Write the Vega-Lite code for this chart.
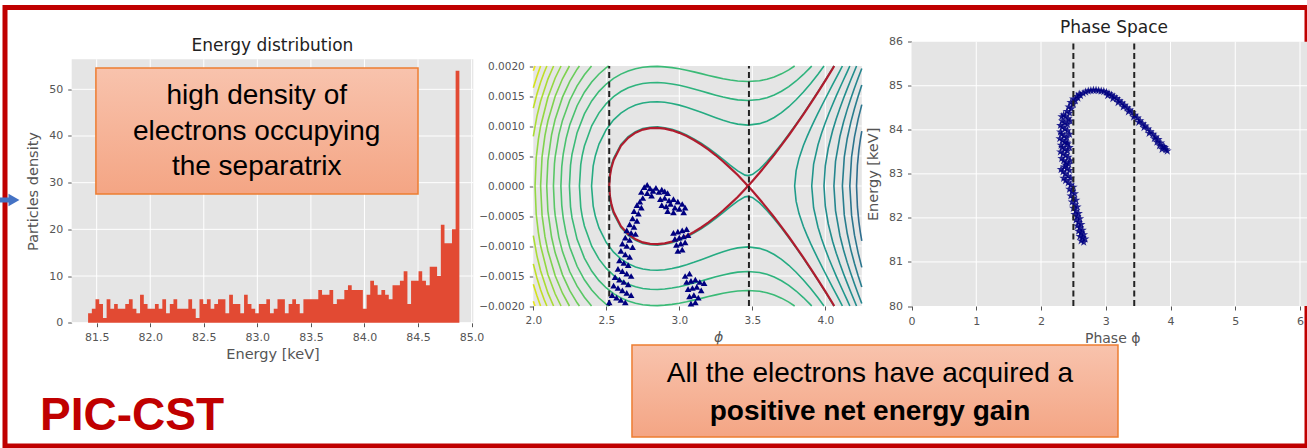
{
  "$schema": "https://vega.github.io/schema/vega-lite/v6.json",
  "width": 1302,
  "height": 438.5,
  "autosize": {"type": "none"},
  "padding": {"left": 5, "top": 7.5, "right": 0, "bottom": 2},
  "background": "white",
  "view": {"stroke": "#c00000", "strokeWidth": 5, "fill": "white"},
  "config": {
    "axis": {"grid": false, "domain": false, "labelFont": "DejaVu Sans", "titleFont": "DejaVu Sans", "labelColor": "#555555", "titleColor": "#555555", "tickColor": "#555555", "tickSize": 4, "labelPadding": 5, "labelFontSize": 11, "titleFontSize": 14.5, "titleFontWeight": "normal", "labelFlush": false, "labelOverlap": false},
    "text": {"font": "DejaVu Sans"}
  },
  "resolve": {"scale": {"x": "independent", "y": "independent", "color": "independent"}, "axis": {"x": "independent", "y": "independent"}},
  "layer": [
    {
      "layer": [
        {
          "data": {"values": [{}]},
          "mark": {"type": "rect", "fill": "#E5E5E5"},
          "encoding": {
            "x": {"datum": 81.267, "type": "quantitative", "scale": {"domain": [81.267, 85.016], "range": [66.7, 468.3], "nice": false, "zero": false}},
            "x2": {"datum": 85.016},
            "y": {"datum": 0, "type": "quantitative", "scale": {"domain": [0, 56.43], "range": [315.2, 51.8], "nice": false, "zero": false}},
            "y2": {"datum": 56.43}
          }
        },
        {
          "data": {"values": [{"v": 81.5}, {"v": 82}, {"v": 82.5}, {"v": 83}, {"v": 83.5}, {"v": 84}, {"v": 84.5}, {"v": 85}]},
          "mark": {"type": "rule", "color": "white", "strokeWidth": 1},
          "encoding": {"x": {"field": "v", "type": "quantitative", "axis": {"orient": "bottom", "offset": -123.3, "values": [81.5, 82, 82.5, 83, 83.5, 84, 84.5, 85], "format": ".1f", "title": "Energy [keV]", "titlePadding": 5}}, "y": {"datum": 0}, "y2": {"datum": 56.43}}
        },
        {
          "data": {"values": [{"h": 0}, {"h": 10}, {"h": 20}, {"h": 30}, {"h": 40}, {"h": 50}]},
          "mark": {"type": "rule", "color": "white", "strokeWidth": 1},
          "encoding": {"y": {"field": "h", "type": "quantitative", "axis": {"orient": "left", "offset": -66.7, "values": [0, 10, 20, 30, 40, 50], "title": "Particles density", "titlePadding": 8}}, "x": {"datum": 81.267}, "x2": {"datum": 85.016}}
        },
        {
          "data": {"values": [{
            "e": [81.420, 81.455, 81.489, 81.524, 81.559, 81.593, 81.628, 81.663, 81.697, 81.732, 81.767, 81.801, 81.836, 81.871, 81.905, 81.940, 81.975, 82.009, 82.044, 82.079, 82.113, 82.148, 82.183, 82.217, 82.252, 82.287, 82.321, 82.356, 82.391, 82.425, 82.460, 82.495, 82.529, 82.564, 82.598, 82.633, 82.668, 82.702, 82.737, 82.772, 82.806, 82.841, 82.876, 82.910, 82.945, 82.980, 83.014, 83.049, 83.084, 83.118, 83.153, 83.188, 83.222, 83.257, 83.292, 83.326, 83.361, 83.396, 83.430, 83.465, 83.500, 83.534, 83.569, 83.604, 83.638, 83.673, 83.708, 83.742, 83.777, 83.812, 83.846, 83.881, 83.916, 83.950, 83.985, 84.020, 84.054, 84.089, 84.123, 84.158, 84.193, 84.227, 84.262, 84.297, 84.331, 84.366, 84.401, 84.435, 84.470, 84.505, 84.539, 84.574, 84.609, 84.643, 84.678, 84.713, 84.747, 84.782, 84.817, 84.851, 84.886],
            "n": [2, 3, 5, 4, 1, 5, 3, 4, 3, 3, 4, 5, 3, 2, 6, 4, 3, 3, 4, 3, 5, 2, 4, 5, 3, 3, 3, 5, 3, 1, 5, 4, 5, 3, 4, 5, 5, 2, 6, 4, 4, 2, 6, 4, 3, 2, 4, 4, 5, 2, 3, 5, 5, 2, 4, 5, 4, 2, 5, 5, 5, 5, 7, 6, 6, 7, 4, 5, 5, 7, 8, 7, 7, 7, 3, 6, 9, 8, 6, 7, 6, 5, 8, 8, 9, 11, 4, 9, 9, 11, 9, 8, 12, 12, 10, 21, 17, 17, 20, 54, 54]
          }]},
          "transform": [{"flatten": ["e", "n"]}],
          "mark": {"type": "area", "interpolate": "step-after", "color": "#E24A33", "opacity": 1},
          "encoding": {"x": {"field": "e", "type": "quantitative"}, "y": {"field": "n", "type": "quantitative", "stack": null}}
        },
        {
          "data": {"values": [{}]},
          "mark": {"type": "text", "fontSize": 17, "color": "#222222", "align": "center", "baseline": "alphabetic"},
          "encoding": {"x": {"datum": 83.141}, "y": {"datum": 58.27}, "text": {"value": "Energy distribution"}}
        },
        {
          "data": {"values": [{}]},
          "mark": {"type": "rect", "fill": {"gradient": "linear", "x1": 0, "y1": 0, "x2": 0, "y2": 1, "stops": [{"offset": 0, "color": "#f8c3ad"}, {"offset": 1, "color": "#f4a584"}]}, "stroke": "#ed7d31", "strokeWidth": 1.5},
          "encoding": {"x": {"datum": 81.493}, "x2": {"datum": 84.5}, "y": {"datum": 54.56}, "y2": {"datum": 27.57}}
        },
        {
          "data": {"values": [{}]},
          "mark": {"type": "text", "font": "Liberation Sans", "fontSize": 28, "lineHeight": 35.5, "align": "center", "baseline": "alphabetic", "color": "black"},
          "encoding": {"x": {"datum": 82.994}, "y": {"datum": 46.85}, "text": {"value": ["high density of", "electrons occupying", "the separatrix"]}}
        },
        {
          "data": {"values": [{}]},
          "mark": {"type": "text", "font": "Liberation Sans", "fontWeight": "bold", "fontSize": 46, "align": "left", "baseline": "alphabetic", "color": "#c00000"},
          "encoding": {"x": {"datum": 80.971}, "y": {"datum": -22.99}, "text": {"value": "PIC-CST"}}
        },
        {
          "data": {"values": [{}]},
          "mark": {"type": "rule", "color": "#4472c4", "strokeWidth": 5},
          "encoding": {"x": {"datum": 80.597}, "x2": {"datum": 80.69}, "y": {"datum": 26.29}}
        },
        {
          "data": {"values": [{}]},
          "mark": {"type": "point", "shape": "triangle-right", "filled": true, "color": "#4472c4", "size": 160, "opacity": 1},
          "encoding": {"x": {"datum": 80.728}, "y": {"datum": 26.29}}
        }
      ]
    },
    {
      "layer": [
        {
          "data": {"values": [{}]},
          "mark": {"type": "rect", "fill": "#E5E5E5"},
          "encoding": {
            "x": {"datum": 2, "type": "quantitative", "scale": {"domain": [2, 4.25], "range": [528.3, 856.8], "nice": false, "zero": false}},
            "x2": {"datum": 4.25},
            "y": {"datum": -0.002, "type": "quantitative", "scale": {"domain": [-0.002, 0.002], "range": [298.5, 58.5], "nice": false, "zero": false}},
            "y2": {"datum": 0.002}
          }
        },
        {
          "data": {"values": [{"v": 2.5}, {"v": 3}, {"v": 3.5}, {"v": 4}]},
          "mark": {"type": "rule", "color": "white", "strokeWidth": 1},
          "encoding": {"x": {"field": "v", "type": "quantitative", "axis": {"orient": "bottom", "offset": -140, "values": [2, 2.5, 3, 3.5, 4], "format": ".1f", "title": "ϕ", "titleFontStyle": "italic", "titleFontSize": 14, "labelFontSize": 10.5, "titlePadding": 5, "titleX": 713}}, "y": {"datum": -0.002}, "y2": {"datum": 0.002}}
        },
        {
          "data": {"values": [{"h": -0.0015}, {"h": -0.001}, {"h": -0.0005}, {"h": 0}, {"h": 0.0005}, {"h": 0.001}, {"h": 0.0015}]},
          "mark": {"type": "rule", "color": "white", "strokeWidth": 1},
          "encoding": {"y": {"field": "h", "type": "quantitative", "axis": {"orient": "left", "offset": -528.3, "values": [-0.002, -0.0015, -0.001, -0.0005, 0, 0.0005, 0.001, 0.0015, 0.002], "format": ".4f", "title": null, "labelFontSize": 10.5}}, "x": {"datum": 2}, "x2": {"datum": 4.25}}
        },
        {
          "data": {"values": [
            {"c": "m7u", "L": -3.485, "phi": [4.214, 4.22, 4.23, 4.24, 4.25], "p": [0, 0.000349, 0.000597, 0.000772, 0.000915]},
            {"c": "m7l", "L": -3.485, "phi": [4.214, 4.22, 4.23, 4.24, 4.25], "p": [0, -0.000349, -0.000597, -0.000772, -0.000915]},
            {"c": "m6u", "L": -2.985, "phi": [4.168, 4.18, 4.2, 4.225, 4.25], "p": [0, 0.000486, 0.000819, 0.001114, 0.001356]},
            {"c": "m6l", "L": -2.985, "phi": [4.168, 4.18, 4.2, 4.225, 4.25], "p": [0, -0.000486, -0.000819, -0.001114, -0.001356]},
            {"c": "m5u", "L": -2.485, "phi": [4.117, 4.13, 4.15, 4.175, 4.2, 4.225, 4.25], "p": [0, 0.000482, 0.000788, 0.001064, 0.001293, 0.001497, 0.001685]},
            {"c": "m5l", "L": -2.485, "phi": [4.117, 4.13, 4.15, 4.175, 4.2, 4.225, 4.25], "p": [0, -0.000482, -0.000788, -0.001064, -0.001293, -0.001497, -0.001685]},
            {"c": "m4u", "L": -1.985, "phi": [4.059, 4.07, 4.1, 4.125, 4.15, 4.175, 4.2, 4.225, 4.25], "p": [0, 0.00041, 0.000825, 0.001067, 0.001273, 0.00146, 0.001634, 0.0018, 0.001959]},
            {"c": "m4l", "L": -1.985, "phi": [4.059, 4.07, 4.1, 4.125, 4.15, 4.175, 4.2, 4.225, 4.25], "p": [0, -0.00041, -0.000825, -0.001067, -0.001273, -0.00146, -0.001634, -0.0018, -0.001959]},
            {"c": "m3u", "L": -1.485, "phi": [3.991, 4, 4.02, 4.05, 4.075, 4.1, 4.125, 4.15, 4.175, 4.2, 4.214], "p": [0, 0.000337, 0.000629, 0.000921, 0.001119, 0.001297, 0.001462, 0.001619, 0.00177, 0.001916, 0.002]},
            {"c": "m3l", "L": -1.485, "phi": [3.991, 4, 4.02, 4.05, 4.075, 4.1, 4.125, 4.15, 4.175, 4.2, 4.214], "p": [0, -0.000337, -0.000629, -0.000921, -0.001119, -0.001297, -0.001462, -0.001619, -0.00177, -0.001916, -0.002]},
            {"c": "m2u", "L": -0.985, "phi": [3.907, 3.92, 3.95, 3.975, 4, 4.025, 4.05, 4.075, 4.1, 4.125, 4.15, 4.168], "p": [0, 0.000366, 0.000688, 0.000884, 0.001055, 0.001212, 0.001359, 0.001501, 0.001638, 0.001771, 0.001903, 0.002]},
            {"c": "m2l", "L": -0.985, "phi": [3.907, 3.92, 3.95, 3.975, 4, 4.025, 4.05, 4.075, 4.1, 4.125, 4.15, 4.168], "p": [0, -0.000366, -0.000688, -0.000884, -0.001055, -0.001212, -0.001359, -0.001501, -0.001638, -0.001771, -0.001903, -0.002]},
            {"c": "m1u", "L": -0.485, "phi": [3.79, 3.8, 3.82, 3.85, 3.875, 3.9, 3.925, 3.95, 4, 4.05, 4.1, 4.117], "p": [0, 0.000253, 0.00046, 0.000674, 0.000823, 0.000961, 0.00109, 0.001214, 0.001454, 0.001688, 0.001919, 0.002]},
            {"c": "m1l", "L": -0.485, "phi": [3.79, 3.8, 3.82, 3.85, 3.875, 3.9, 3.925, 3.95, 4, 4.05, 4.1, 4.117], "p": [0, -0.000253, -0.00046, -0.000674, -0.000823, -0.000961, -0.00109, -0.001214, -0.001454, -0.001688, -0.001919, -0.002]},
            {"c": "z0u", "L": 0.015, "phi": [2.516, 2.525, 2.535, 2.55, 2.6, 2.65, 2.7, 2.75, 2.8, 2.85, 2.9, 2.95, 3, 3.05, 3.1, 3.15, 3.2, 3.25, 3.3, 3.35, 3.4, 3.45, 3.47, 3.5, 3.55, 3.6, 3.65, 3.7, 3.75, 3.8, 3.85, 3.9, 3.95, 4, 4.05, 4.059], "p": [0, 0.000243, 0.000352, 0.000463, 0.000691, 0.000822, 0.000906, 0.000956, 0.00098, 0.000986, 0.000972, 0.000944, 0.000903, 0.00085, 0.000786, 0.000713, 0.00063, 0.000541, 0.000444, 0.000345, 0.000252, 0.000181, 0.000173, 0.000191, 0.000281, 0.000407, 0.000549, 0.000702, 0.000863, 0.001031, 0.001206, 0.001387, 0.001573, 0.001765, 0.001962, 0.002]},
            {"c": "z0l", "L": 0.015, "phi": [2.516, 2.525, 2.535, 2.55, 2.6, 2.65, 2.7, 2.75, 2.8, 2.85, 2.9, 2.95, 3, 3.05, 3.1, 3.15, 3.2, 3.25, 3.3, 3.35, 3.4, 3.45, 3.47, 3.5, 3.55, 3.6, 3.65, 3.7, 3.75, 3.8, 3.85, 3.9, 3.95, 4, 4.05, 4.059], "p": [0, -0.000243, -0.000352, -0.000463, -0.000691, -0.000822, -0.000906, -0.000956, -0.00098, -0.000986, -0.000972, -0.000944, -0.000903, -0.00085, -0.000786, -0.000713, -0.00063, -0.000541, -0.000444, -0.000345, -0.000252, -0.000181, -0.000173, -0.000191, -0.000281, -0.000407, -0.000549, -0.000702, -0.000863, -0.001031, -0.001206, -0.001387, -0.001573, -0.001765, -0.001962, -0.002]},
            {"c": "p1u", "L": 0.515, "phi": [2.399, 2.41, 2.425, 2.45, 2.5, 2.55, 2.6, 2.65, 2.7, 2.75, 2.8, 2.85, 2.9, 2.95, 3, 3.05, 3.1, 3.15, 3.2, 3.25, 3.3, 3.35, 3.4, 3.47, 3.55, 3.6, 3.65, 3.7, 3.75, 3.8, 3.85, 3.9, 3.95, 3.991], "p": [0, 0.00033, 0.000505, 0.000698, 0.000942, 0.001102, 0.001215, 0.001294, 0.001349, 0.001383, 0.0014, 0.001404, 0.001395, 0.001375, 0.001348, 0.001312, 0.001272, 0.001228, 0.001182, 0.001137, 0.001094, 0.001058, 0.001031, 0.001015, 0.001039, 0.00108, 0.001141, 0.001222, 0.001321, 0.001437, 0.001567, 0.00171, 0.001864, 0.002]},
            {"c": "p1l", "L": 0.515, "phi": [2.399, 2.41, 2.425, 2.45, 2.5, 2.55, 2.6, 2.65, 2.7, 2.75, 2.8, 2.85, 2.9, 2.95, 3, 3.05, 3.1, 3.15, 3.2, 3.25, 3.3, 3.35, 3.4, 3.47, 3.55, 3.6, 3.65, 3.7, 3.75, 3.8, 3.85, 3.9, 3.95, 3.991], "p": [0, -0.00033, -0.000505, -0.000698, -0.000942, -0.001102, -0.001215, -0.001294, -0.001349, -0.001383, -0.0014, -0.001404, -0.001395, -0.001375, -0.001348, -0.001312, -0.001272, -0.001228, -0.001182, -0.001137, -0.001094, -0.001058, -0.001031, -0.001015, -0.001039, -0.00108, -0.001141, -0.001222, -0.001321, -0.001437, -0.001567, -0.00171, -0.001864, -0.002]},
            {"c": "p2u", "L": 1.015, "phi": [2.316, 2.325, 2.335, 2.35, 2.4, 2.45, 2.5, 2.55, 2.6, 2.65, 2.7, 2.75, 2.8, 2.85, 2.9, 2.95, 3, 3.05, 3.1, 3.15, 3.2, 3.25, 3.3, 3.35, 3.4, 3.47, 3.55, 3.6, 3.65, 3.7, 3.75, 3.8, 3.85, 3.9, 3.907], "p": [0, 0.000356, 0.000506, 0.000665, 0.001004, 0.001219, 0.001374, 0.001488, 0.001574, 0.001636, 0.001679, 0.001707, 0.001721, 0.001724, 0.001716, 0.0017, 0.001678, 0.00165, 0.001618, 0.001584, 0.001548, 0.001514, 0.001482, 0.001456, 0.001436, 0.001425, 0.001442, 0.001472, 0.001517, 0.001579, 0.001657, 0.00175, 0.001859, 0.001981, 0.002]},
            {"c": "p2l", "L": 1.015, "phi": [2.316, 2.325, 2.335, 2.35, 2.4, 2.45, 2.5, 2.55, 2.6, 2.65, 2.7, 2.75, 2.8, 2.85, 2.9, 2.95, 3, 3.05, 3.1, 3.15, 3.2, 3.25, 3.3, 3.35, 3.4, 3.47, 3.55, 3.6, 3.65, 3.7, 3.75, 3.8, 3.85, 3.9, 3.907], "p": [0, -0.000356, -0.000506, -0.000665, -0.001004, -0.001219, -0.001374, -0.001488, -0.001574, -0.001636, -0.001679, -0.001707, -0.001721, -0.001724, -0.001716, -0.0017, -0.001678, -0.00165, -0.001618, -0.001584, -0.001548, -0.001514, -0.001482, -0.001456, -0.001436, -0.001425, -0.001442, -0.001472, -0.001517, -0.001579, -0.001657, -0.00175, -0.001859, -0.001981, -0.002]},
            {"c": "p3u", "L": 1.515, "phi": [2.2475, 2.255, 2.265, 2.3, 2.35, 2.4, 2.45, 2.5, 2.55, 2.6, 2.65, 2.7, 2.75, 2.8, 2.85, 2.9, 2.95, 3, 3.05, 3.1, 3.15, 3.2, 3.25, 3.3, 3.35, 3.4, 3.47, 3.55, 3.6, 3.65, 3.7, 3.75, 3.79], "p": [0, 0.000347, 0.000528, 0.000889, 0.001201, 0.001417, 0.001577, 0.001699, 0.001793, 0.001865, 0.001917, 0.001955, 0.001978, 0.00199, 0.001993, 0.001986, 0.001973, 0.001953, 0.001929, 0.001902, 0.001873, 0.001843, 0.001815, 0.001788, 0.001766, 0.00175, 0.001741, 0.001755, 0.001779, 0.001817, 0.001869, 0.001935, 0.002]},
            {"c": "p3l", "L": 1.515, "phi": [2.2475, 2.255, 2.265, 2.3, 2.35, 2.4, 2.45, 2.5, 2.55, 2.6, 2.65, 2.7, 2.75, 2.8, 2.85, 2.9, 2.95, 3, 3.05, 3.1, 3.15, 3.2, 3.25, 3.3, 3.35, 3.4, 3.47, 3.55, 3.6, 3.65, 3.7, 3.75, 3.79], "p": [0, -0.000347, -0.000528, -0.000889, -0.001201, -0.001417, -0.001577, -0.001699, -0.001793, -0.001865, -0.001917, -0.001955, -0.001978, -0.00199, -0.001993, -0.001986, -0.001973, -0.001953, -0.001929, -0.001902, -0.001873, -0.001843, -0.001815, -0.001788, -0.001766, -0.00175, -0.001741, -0.001755, -0.001779, -0.001817, -0.001869, -0.001935, -0.002]},
            {"c": "p4u", "L": 2.015, "phi": [2.189, 2.195, 2.205, 2.225, 2.25, 2.3, 2.35, 2.4, 2.45, 2.5, 2.516], "p": [0, 0.000322, 0.000533, 0.000794, 0.001021, 0.001338, 0.001563, 0.001734, 0.001867, 0.001972, 0.002]},
            {"c": "p4l", "L": 2.015, "phi": [2.189, 2.195, 2.205, 2.225, 2.25, 2.3, 2.35, 2.4, 2.45, 2.5, 2.516], "p": [0, -0.000322, -0.000533, -0.000794, -0.001021, -0.001338, -0.001563, -0.001734, -0.001867, -0.001972, -0.002]},
            {"c": "p5u", "L": 2.515, "phi": [2.138, 2.145, 2.15, 2.175, 2.2, 2.25, 2.3, 2.35, 2.399], "p": [0, 0.000374, 0.00049, 0.000856, 0.001093, 0.001429, 0.00167, 0.001855, 0.002]},
            {"c": "p5l", "L": 2.515, "phi": [2.138, 2.145, 2.15, 2.175, 2.2, 2.25, 2.3, 2.35, 2.399], "p": [0, -0.000374, -0.00049, -0.000856, -0.001093, -0.001429, -0.00167, -0.001855, -0.002]},
            {"c": "p6u", "L": 3.015, "phi": [2.092, 2.1, 2.125, 2.15, 2.2, 2.25, 2.3, 2.316], "p": [0, 0.000417, 0.00085, 0.001114, 0.001481, 0.001744, 0.001947, 0.002]},
            {"c": "p6l", "L": 3.015, "phi": [2.092, 2.1, 2.125, 2.15, 2.2, 2.25, 2.3, 2.316], "p": [0, -0.000417, -0.00085, -0.001114, -0.001481, -0.001744, -0.001947, -0.002]},
            {"c": "p7u", "L": 3.515, "phi": [2.05, 2.06, 2.08, 2.1, 2.15, 2.2, 2.2475], "p": [0, 0.000486, 0.000845, 0.001083, 0.001497, 0.001787, 0.002]},
            {"c": "p7l", "L": 3.515, "phi": [2.05, 2.06, 2.08, 2.1, 2.15, 2.2, 2.2475], "p": [0, -0.000486, -0.000845, -0.001083, -0.001497, -0.001787, -0.002]},
            {"c": "p8u", "L": 4.015, "phi": [2.012, 2.02, 2.035, 2.05, 2.1, 2.15, 2.19], "p": [0, 0.000471, 0.000781, 0.000996, 0.001474, 0.0018, 0.002]},
            {"c": "p8l", "L": 4.015, "phi": [2.012, 2.02, 2.035, 2.05, 2.1, 2.15, 2.19], "p": [0, -0.000471, -0.000781, -0.000996, -0.001474, -0.0018, -0.002]},
            {"c": "p9u", "L": 4.515, "phi": [2, 2.025, 2.05, 2.1, 2.139], "p": [0.000827, 0.001164, 0.001411, 0.001782, 0.002]},
            {"c": "p9l", "L": 4.515, "phi": [2, 2.025, 2.05, 2.1, 2.139], "p": [-0.000827, -0.001164, -0.001411, -0.001782, -0.002]},
            {"c": "p10u", "L": 5.015, "phi": [2, 2.025, 2.05, 2.075, 2.093], "p": [0.001298, 0.001534, 0.00173, 0.001896, 0.002]},
            {"c": "p10l", "L": 5.015, "phi": [2, 2.025, 2.05, 2.075, 2.093], "p": [-0.001298, -0.001534, -0.00173, -0.001896, -0.002]},
            {"c": "p11u", "L": 5.515, "phi": [2, 2.025, 2.04, 2.05], "p": [0.001638, 0.001831, 0.001934, 0.002]},
            {"c": "p11l", "L": 5.515, "phi": [2, 2.025, 2.04, 2.05], "p": [-0.001638, -0.001831, -0.001934, -0.002]},
            {"c": "p12u", "L": 6.015, "phi": [2, 2.006, 2.012], "p": [0.001919, 0.001961, 0.002]},
            {"c": "p12l", "L": 6.015, "phi": [2, 2.006, 2.012], "p": [-0.001919, -0.001961, -0.002]}
          ]},
          "transform": [{"flatten": ["phi", "p"]}],
          "mark": {"type": "line", "strokeWidth": 1.6},
          "encoding": {
            "x": {"field": "phi", "type": "quantitative"},
            "y": {"field": "p", "type": "quantitative"},
            "detail": {"field": "c", "type": "nominal"},
            "color": {"field": "L", "type": "quantitative", "scale": {"scheme": "viridis", "domain": [-9, 6.5]}, "legend": null}
          }
        },
        {
          "data": {"values": [
            {"c": "su", "phi": [2.52, 2.525, 2.535, 2.55, 2.6, 2.65, 2.7, 2.75, 2.8, 2.85, 2.9, 2.95, 3, 3.05, 3.1, 3.15, 3.2, 3.25, 3.3, 3.35, 3.4, 3.45, 3.47, 3.5, 3.55, 3.6, 3.65, 3.7, 3.75, 3.8, 3.85, 3.9, 3.95, 4, 4.05, 4.061], "p": [0, 0.00017, 0.000306, 0.00043, 0.000669, 0.000803, 0.000889, 0.00094, 0.000965, 0.00097, 0.000956, 0.000928, 0.000886, 0.000832, 0.000767, 0.000692, 0.000606, 0.000512, 0.000409, 0.000298, 0.000183, 0.000053, 0, 0.000081, 0.000221, 0.000368, 0.000521, 0.00068, 0.000846, 0.001017, 0.001193, 0.001376, 0.001563, 0.001756, 0.001954, 0.002]},
            {"c": "sl", "phi": [2.52, 2.525, 2.535, 2.55, 2.6, 2.65, 2.7, 2.75, 2.8, 2.85, 2.9, 2.95, 3, 3.05, 3.1, 3.15, 3.2, 3.25, 3.3, 3.35, 3.4, 3.45, 3.47, 3.5, 3.55, 3.6, 3.65, 3.7, 3.75, 3.8, 3.85, 3.9, 3.95, 4, 4.05, 4.061], "p": [0, -0.00017, -0.000306, -0.00043, -0.000669, -0.000803, -0.000889, -0.00094, -0.000965, -0.00097, -0.000956, -0.000928, -0.000886, -0.000832, -0.000767, -0.000692, -0.000606, -0.000512, -0.000409, -0.000298, -0.000183, -0.000053, 0, -0.000081, -0.000221, -0.000368, -0.000521, -0.00068, -0.000846, -0.001017, -0.001193, -0.001376, -0.001563, -0.001756, -0.001954, -0.002]}
          ]},
          "transform": [{"flatten": ["phi", "p"]}],
          "mark": {"type": "line", "strokeWidth": 2.2, "color": "#b01c2e"},
          "encoding": {
            "x": {"field": "phi", "type": "quantitative"},
            "y": {"field": "p", "type": "quantitative"},
            "detail": {"field": "c", "type": "nominal"}
          }
        },
        {
          "data": {"values": [{"v": 2.52}, {"v": 3.477}]},
          "mark": {"type": "rule", "color": "#222222", "strokeWidth": 2, "strokeDash": [6, 3.5]},
          "encoding": {"x": {"field": "v", "type": "quantitative"}, "y": {"datum": -0.002}, "y2": {"datum": 0.002}}
        },
        {
          "data": {"values": [{
            "phi": [2.74, 2.76, 2.78, 2.80, 2.82, 2.84, 2.86, 2.88, 2.90, 2.92, 2.78, 2.81, 2.75, 2.87, 2.90, 2.93, 2.96, 2.99, 3.02, 3.04, 2.88, 2.91, 2.94, 2.97, 3.00, 3.03, 2.92, 2.96, 2.73, 2.71, 2.74, 2.69, 2.72, 2.68, 2.71, 2.66, 2.69, 2.64, 2.67, 2.70, 2.63, 2.66, 2.61, 2.64, 2.68, 2.60, 2.63, 2.66, 2.59, 2.62, 2.65, 2.58, 2.61, 2.64, 2.67, 2.56, 2.59, 2.62, 2.65, 2.55, 2.58, 2.61, 2.64, 2.67, 2.54, 2.57, 2.60, 2.52, 2.63, 2.96, 2.99, 3.02, 3.05, 2.97, 3.00, 3.03, 3.06, 2.98, 3.01, 3.04, 2.99, 3.02, 3.04, 3.07, 3.05, 3.08, 3.11, 3.14, 3.17, 3.06, 3.09, 3.12, 3.15, 3.07, 3.10, 3.13, 3.08, 3.11],
            "p": [-0.0001, -0.00002, 0.00002, -0.00004, -0.00008, -0.00003, -0.0001, -0.00006, -0.00009, -0.00012, -0.00012, -0.00016, -0.0002, -0.00022, -0.0002, -0.00024, -0.00022, -0.00026, -0.0003, -0.00036, -0.00032, -0.00034, -0.0003, -0.00036, -0.00038, -0.00044, -0.00042, -0.00044, -0.00026, -0.00032, -0.00036, -0.00042, -0.00046, -0.00054, -0.00058, -0.00064, -0.00068, -0.00074, -0.00078, -0.0008, -0.00086, -0.0009, -0.00096, -0.001, -0.00102, -0.00108, -0.00114, -0.00118, -0.00124, -0.00128, -0.00132, -0.00138, -0.00142, -0.00146, -0.0015, -0.00152, -0.00156, -0.0016, -0.00164, -0.00166, -0.0017, -0.00174, -0.00178, -0.00182, -0.00182, -0.00186, -0.0019, -0.00194, -0.00194, -0.00078, -0.00076, -0.00074, -0.00072, -0.00088, -0.00086, -0.00084, -0.00082, -0.00098, -0.00096, -0.00094, -0.00108, -0.00106, -0.0015, -0.00146, -0.0016, -0.00158, -0.00156, -0.0016, -0.00162, -0.00172, -0.0017, -0.00168, -0.00174, -0.00184, -0.00182, -0.00186, -0.00196, -0.00194]
          }]},
          "transform": [{"flatten": ["phi", "p"]}],
          "mark": {"type": "point", "shape": "triangle-up", "filled": true, "color": "#000080", "size": 44, "opacity": 1},
          "encoding": {"x": {"field": "phi", "type": "quantitative"}, "y": {"field": "p", "type": "quantitative"}}
        }
      ]
    },
    {
      "layer": [
        {
          "data": {"values": [{}]},
          "mark": {"type": "rect", "fill": "#E5E5E5"},
          "encoding": {
            "x": {"datum": 0, "type": "quantitative", "scale": {"domain": [0, 6.2], "range": [906.5, 1307.95], "nice": false, "zero": false}},
            "x2": {"datum": 6.2},
            "y": {"datum": 80, "type": "quantitative", "scale": {"domain": [80, 86], "range": [298.5, 34.2], "nice": false, "zero": false}},
            "y2": {"datum": 86}
          }
        },
        {
          "data": {"values": [{"v": 1}, {"v": 2}, {"v": 3}, {"v": 4}, {"v": 5}, {"v": 6}]},
          "mark": {"type": "rule", "color": "white", "strokeWidth": 1},
          "encoding": {"x": {"field": "v", "type": "quantitative", "axis": {"orient": "bottom", "offset": -140, "values": [0, 1, 2, 3, 4, 5, 6], "format": "d", "title": "Phase ϕ", "titleFontSize": 14, "titlePadding": 5}}, "y": {"datum": 80}, "y2": {"datum": 86}}
        },
        {
          "data": {"values": [{"h": 81}, {"h": 82}, {"h": 83}, {"h": 84}, {"h": 85}]},
          "mark": {"type": "rule", "color": "white", "strokeWidth": 1},
          "encoding": {"y": {"field": "h", "type": "quantitative", "axis": {"orient": "left", "offset": -906.5, "values": [80, 81, 82, 83, 84, 85, 86], "format": "d", "title": "Energy [keV]", "titlePadding": 8}}, "x": {"datum": 0}, "x2": {"datum": 6.2}}
        },
        {
          "data": {"values": [{
            "phi": [2.66, 2.62, 2.68, 2.64, 2.60, 2.66, 2.62, 2.58, 2.64, 2.60, 2.56, 2.62, 2.58, 2.54, 2.60, 2.56, 2.52, 2.58, 2.54, 2.50, 2.56, 2.52, 2.48, 2.54, 2.50, 2.46, 2.52, 2.48, 2.44, 2.50, 2.46, 2.42, 2.38, 2.46, 2.42, 2.38, 2.34, 2.44, 2.40, 2.36, 2.43, 2.39, 2.35, 2.32, 2.42, 2.38, 2.34, 2.41, 2.37, 2.33, 2.31, 2.41, 2.37, 2.33, 2.40, 2.36, 2.32, 2.30, 2.41, 2.37, 2.33, 2.41, 2.37, 2.33, 2.42, 2.38, 2.35, 2.44, 2.40, 2.47, 2.43, 2.50, 2.46, 2.53, 2.50, 2.57, 2.55, 2.61, 2.59, 2.65, 2.69, 2.73, 2.77, 2.81, 2.85, 2.89, 2.93, 2.97, 3.01, 3.05, 3.03, 3.09, 3.13, 3.11, 3.17, 3.21, 3.19, 3.25, 3.29, 3.27, 3.33, 3.37, 3.35, 3.41, 3.45, 3.43, 3.49, 3.53, 3.51, 3.57, 3.61, 3.59, 3.65, 3.69, 3.67, 3.73, 3.77, 3.75, 3.81, 3.79, 3.85, 3.83, 3.89, 3.87, 3.93, 3.91, 3.95, 2.35, 2.31, 2.45, 2.30, 2.44, 2.29, 2.44, 2.30, 2.45, 2.32, 2.40, 2.38],
            "E": [81.45, 81.48, 81.52, 81.55, 81.58, 81.62, 81.66, 81.70, 81.72, 81.78, 81.82, 81.85, 81.90, 81.95, 81.98, 82.03, 82.08, 82.10, 82.16, 82.22, 82.25, 82.30, 82.36, 82.40, 82.45, 82.50, 82.55, 82.60, 82.65, 82.70, 82.75, 82.80, 82.85, 82.90, 82.95, 83.00, 83.05, 83.08, 83.12, 83.16, 83.22, 83.26, 83.30, 83.35, 83.38, 83.42, 83.46, 83.52, 83.56, 83.60, 83.65, 83.68, 83.72, 83.76, 83.82, 83.86, 83.90, 83.95, 83.98, 84.02, 84.06, 84.12, 84.16, 84.20, 84.25, 84.30, 84.34, 84.38, 84.42, 84.48, 84.52, 84.58, 84.62, 84.66, 84.70, 84.72, 84.76, 84.78, 84.81, 84.83, 84.86, 84.88, 84.89, 84.90, 84.90, 84.89, 84.88, 84.87, 84.85, 84.82, 84.78, 84.79, 84.75, 84.71, 84.71, 84.66, 84.62, 84.61, 84.56, 84.52, 84.50, 84.45, 84.41, 84.39, 84.33, 84.29, 84.27, 84.21, 84.17, 84.14, 84.09, 84.05, 84.02, 83.96, 83.92, 83.90, 83.84, 83.80, 83.78, 83.72, 83.70, 83.64, 83.62, 83.56, 83.55, 83.60, 83.52, 82.90, 83.10, 83.30, 83.50, 83.60, 83.80, 83.90, 84.10, 84.20, 84.30, 83.70, 83.20]
          }]},
          "transform": [{"flatten": ["phi", "E"]}],
          "mark": {"type": "point", "shape": "M0,-1L0.2245,-0.309L0.951,-0.309L0.3633,0.118L0.5878,0.809L0,0.382L-0.5878,0.809L-0.3633,0.118L-0.951,-0.309L-0.2245,-0.309Z", "filled": true, "color": "#000080", "size": 85, "opacity": 0.85},
          "encoding": {"x": {"field": "phi", "type": "quantitative"}, "y": {"field": "E", "type": "quantitative"}}
        },
        {
          "data": {"values": [{"v": 2.5}, {"v": 3.44}]},
          "mark": {"type": "rule", "color": "#222222", "strokeWidth": 2, "strokeDash": [6, 3.5]},
          "encoding": {"x": {"field": "v", "type": "quantitative"}, "y": {"datum": 80}, "y2": {"datum": 86}}
        },
        {
          "data": {"values": [{}]},
          "mark": {"type": "text", "fontSize": 17, "color": "#222222", "align": "center", "baseline": "alphabetic"},
          "encoding": {"x": {"datum": 3.127}, "y": {"datum": 86.198}, "text": {"value": "Phase Space"}}
        },
        {
          "data": {"values": [{}]},
          "mark": {"type": "rect", "fill": {"gradient": "linear", "x1": 0, "y1": 0, "x2": 0, "y2": 1, "stops": [{"offset": 0, "color": "#f8c3ad"}, {"offset": 1, "color": "#f4a584"}]}, "stroke": "#ed7d31", "strokeWidth": 1.5},
          "encoding": {"x": {"datum": -4.317}, "x2": {"datum": 3.189}, "y": {"datum": 79.115}, "y2": {"datum": 77.026}}
        },
        {
          "data": {"values": [{}]},
          "mark": {"type": "text", "font": "Liberation Sans", "fontSize": 28, "align": "center", "baseline": "alphabetic", "color": "black"},
          "encoding": {"x": {"datum": -0.641}, "y": {"datum": 78.286}, "text": {"value": "All the electrons have acquired a"}}
        },
        {
          "data": {"values": [{}]},
          "mark": {"type": "text", "font": "Liberation Sans", "fontWeight": "bold", "fontSize": 28, "align": "center", "baseline": "alphabetic", "color": "black"},
          "encoding": {"x": {"datum": -0.641}, "y": {"datum": 77.423}, "text": {"value": "positive net energy gain"}}
        }
      ]
    }
  ]
}
